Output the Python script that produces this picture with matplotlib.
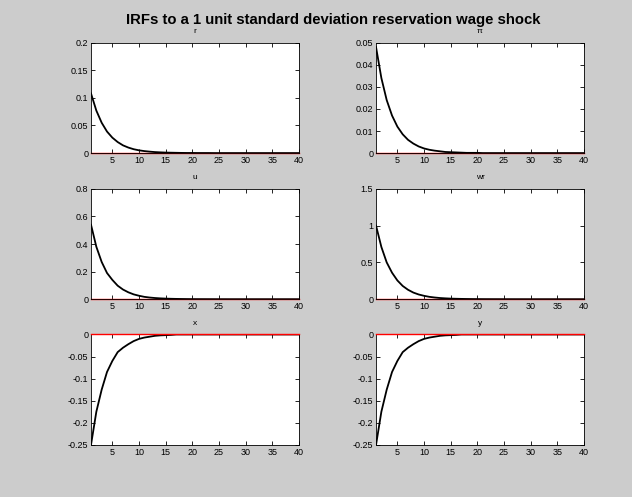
import matplotlib
matplotlib.use("Agg")
import matplotlib.pyplot as plt
import numpy as np

plt.rcParams['font.family'] = ['Liberation Sans', 'DejaVu Sans']

# impulse responses, horizon 1..40
periods = list(range(1, 41))

r_irf = [0.108, 0.077, 0.055, 0.039, 0.028, 0.020, 0.014, 0.010, 0.007, 0.005,
         0.0036, 0.0026, 0.0018, 0.0013, 0.0009, 0.0007, 0.0005, 0.0003, 0.0002, 0.0002,
         0.0001, 0.0001, 0.0001, 0.0, 0.0, 0.0, 0.0, 0.0, 0.0, 0.0,
         0.0, 0.0, 0.0, 0.0, 0.0, 0.0, 0.0, 0.0, 0.0, 0.0]
pi_irf = [0.048, 0.034, 0.024, 0.017, 0.012, 0.0085, 0.006, 0.0043, 0.003, 0.0021,
          0.0015, 0.0011, 0.0008, 0.0005, 0.0004, 0.0003, 0.0002, 0.0001, 0.0001, 0.0001,
          0.0, 0.0, 0.0, 0.0, 0.0, 0.0, 0.0, 0.0, 0.0, 0.0,
          0.0, 0.0, 0.0, 0.0, 0.0, 0.0, 0.0, 0.0, 0.0, 0.0]
u_irf = [0.54, 0.38, 0.27, 0.19, 0.14, 0.098, 0.07, 0.05, 0.035, 0.025,
         0.017, 0.012, 0.0085, 0.006, 0.0043, 0.003, 0.0021, 0.0015, 0.001, 0.0007,
         0.0005, 0.0004, 0.0003, 0.0002, 0.0001, 0.0001, 0.0, 0.0, 0.0, 0.0,
         0.0, 0.0, 0.0, 0.0, 0.0, 0.0, 0.0, 0.0, 0.0, 0.0]
wr_irf = [1.0, 0.71, 0.50, 0.36, 0.255, 0.18, 0.128, 0.09, 0.064, 0.046,
          0.032, 0.023, 0.016, 0.0115, 0.008, 0.0058, 0.0041, 0.0029, 0.002, 0.0015,
          0.001, 0.0007, 0.0005, 0.0004, 0.0003, 0.0002, 0.0001, 0.0001, 0.0, 0.0,
          0.0, 0.0, 0.0, 0.0, 0.0, 0.0, 0.0, 0.0, 0.0, 0.0]
x_irf = [-0.25, -0.175, -0.125, -0.085, -0.06, -0.04, -0.03, -0.022, -0.015, -0.01,
         -0.007, -0.005, -0.003, -0.002, -0.0015, -0.001, 0.0, 0.0, 0.0, 0.0,
         0.0, 0.0, 0.0, 0.0, 0.0, 0.0, 0.0, 0.0, 0.0, 0.0,
         0.0, 0.0, 0.0, 0.0, 0.0, 0.0, 0.0, 0.0, 0.0, 0.0]
y_irf = [-0.25, -0.175, -0.125, -0.085, -0.06, -0.04, -0.03, -0.022, -0.015, -0.01,
         -0.007, -0.005, -0.003, -0.002, -0.0015, -0.001, 0.0, 0.0, 0.0, 0.0,
         0.0, 0.0, 0.0, 0.0, 0.0, 0.0, 0.0, 0.0, 0.0, 0.0,
         0.0, 0.0, 0.0, 0.0, 0.0, 0.0, 0.0, 0.0, 0.0, 0.0]

names = ['r', 'π', 'u', 'wr', 'x', 'y']
series = [r_irf, pi_irf, u_irf, wr_irf, x_irf, y_irf]
yticks = [
    [0, 0.05, 0.1, 0.15, 0.2],
    [0, 0.01, 0.02, 0.03, 0.04, 0.05],
    [0, 0.2, 0.4, 0.6, 0.8],
    [0, 0.5, 1, 1.5],
    [-0.25, -0.2, -0.15, -0.1, -0.05, 0],
    [-0.25, -0.2, -0.15, -0.1, -0.05, 0],
]
ytick_labels = [
    ['0', '0.05', '0.1', '0.15', '0.2'],
    ['0', '0.01', '0.02', '0.03', '0.04', '0.05'],
    ['0', '0.2', '0.4', '0.6', '0.8'],
    ['0', '0.5', '1', '1.5'],
    ['-0.25', '-0.2', '-0.15', '-0.1', '-0.05', '0'],
    ['-0.25', '-0.2', '-0.15', '-0.1', '-0.05', '0'],
]
xticks = [5, 10, 15, 20, 25, 30, 35, 40]

bg = '#cccccc'
fig = plt.figure(figsize=(6.32, 4.97), dpi=100, facecolor=bg)

# axes boxes [left, bottom, width, height] in figure fractions
lefts = [0.144, 0.595]
bottoms = [0.692, 0.398, 0.105]
w, h = 0.329, 0.222

for i in range(6):
    row, col = divmod(i, 2)
    ax = fig.add_axes([lefts[col], bottoms[row], w, h])
    ax.set_facecolor('white')
    # red zero line sits below the IRF in the top rows, on top in the last row
    red_z = 4 if row == 2 else 2
    ax.plot(periods, np.zeros(len(periods)), color='#ff0000', lw=1.0, zorder=red_z,
            clip_on=False)
    ax.plot(periods, series[i], color='black', lw=1.3, zorder=3)
    ax.set_xlim(1, 40)
    ax.set_ylim(yticks[i][0], yticks[i][-1])
    ax.set_xticks(xticks)
    ax.set_yticks(yticks[i])
    ax.set_yticklabels(ytick_labels[i])
    ax.tick_params(direction='in', length=3, width=0.6, labelsize=6.5, pad=2,
                   top=True, right=True, colors='black')
    for s in ax.spines.values():
        s.set_linewidth(0.6)
    ax.set_title(names[i], fontsize=6, pad=7)

fig.text(0.527, 0.952, 'IRFs to a 1 unit standard deviation reservation wage shock',
         fontsize=10.7, fontweight='bold', ha='center', va='baseline')

fig.savefig('out.png', dpi=100, facecolor=bg)
